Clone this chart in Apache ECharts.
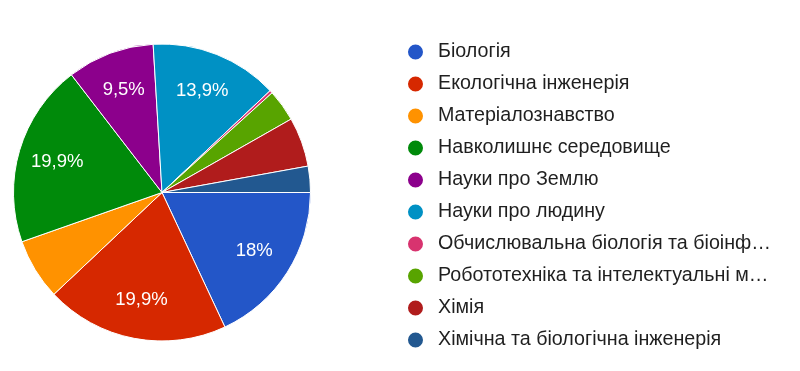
<!DOCTYPE html>
<html><head><meta charset="utf-8">
<script src="https://cdn.jsdelivr.net/npm/echarts@6/dist/echarts.min.js"></script>
<style>html,body{margin:0;padding:0;background:#fff}#c{width:800px;height:371px}</style>
</head><body><div id="c"></div>
<script>
const categories = ['Біологія','Екологічна інженерія','Матеріалознавство','Навколишнє середовище','Науки про Землю','Науки про людину','Обчислювальна біологія та біоінформатика','Робототехніка та інтелектуальні машини','Хімія','Хімічна та біологічна інженерія'];
const counts = [57, 63, 21, 63, 30, 44, 1, 11, 17, 9];
const colors = ['#2356c8','#d62800','#ff9200','#008a0a','#8c008c','#0091c4','#d8336f','#58a400','#b01c1c','#225890'];
const legendLabels = ['Біологія','Екологічна інженерія','Матеріалознавство','Навколишнє середовище','Науки про Землю','Науки про людину','Обчислювальна біологія та біоінф…','Робототехніка та інтелектуальні м…','Хімія','Хімічна та біологічна інженерія'];

const total = counts.reduce((a,b)=>a+b,0);
const fmt = v => { let p = Math.round(v/total*1000)/10; let s = (p % 1 === 0) ? String(p) : p.toFixed(1); return s.replace('.', ',') + '%'; };
const data = categories.map((n,i)=>({name:n, value:counts[i], itemStyle:{color:colors[i]}}));
const labelData = categories.map((n,i)=>({name:n+' ', value:counts[i]}));

const chart = echarts.init(document.getElementById('c'));
chart.setOption({
  animation:false,
  legend:{
    orient:'vertical', left:401, top:37, icon:'circle', itemWidth:17, itemHeight:17, itemGap:12,
    data: categories,
    formatter: name => legendLabels[categories.indexOf(name)],
    textStyle:{fontFamily:'Arial, "Liberation Sans", sans-serif', fontSize:19.7, color:'#1f1f1f', padding:[0,0,0,9]}
  },
  series:[
    {type:'pie', center:[162,192.5], radius:[0,148.5], startAngle:0, clockwise:true, silent:true,
     data:data, label:{show:false}, labelLine:{show:false},
     itemStyle:{borderColor:'#fff', borderWidth:1}},
    {type:'pie', center:[162,192.5], radius:[64,148.5], startAngle:0, clockwise:true, silent:true,
     legendHoverLink:false,
     data:labelData, itemStyle:{color:'rgba(0,0,0,0)'}, labelLine:{show:false},
     label:{show:true, position:'inside', color:'#fff', fontFamily:'Arial, "Liberation Sans", sans-serif', fontSize:18.5,
       formatter: p => (p.value/total >= 0.09 ? fmt(p.value) : '')}}
  ]
});
</script></body></html>
